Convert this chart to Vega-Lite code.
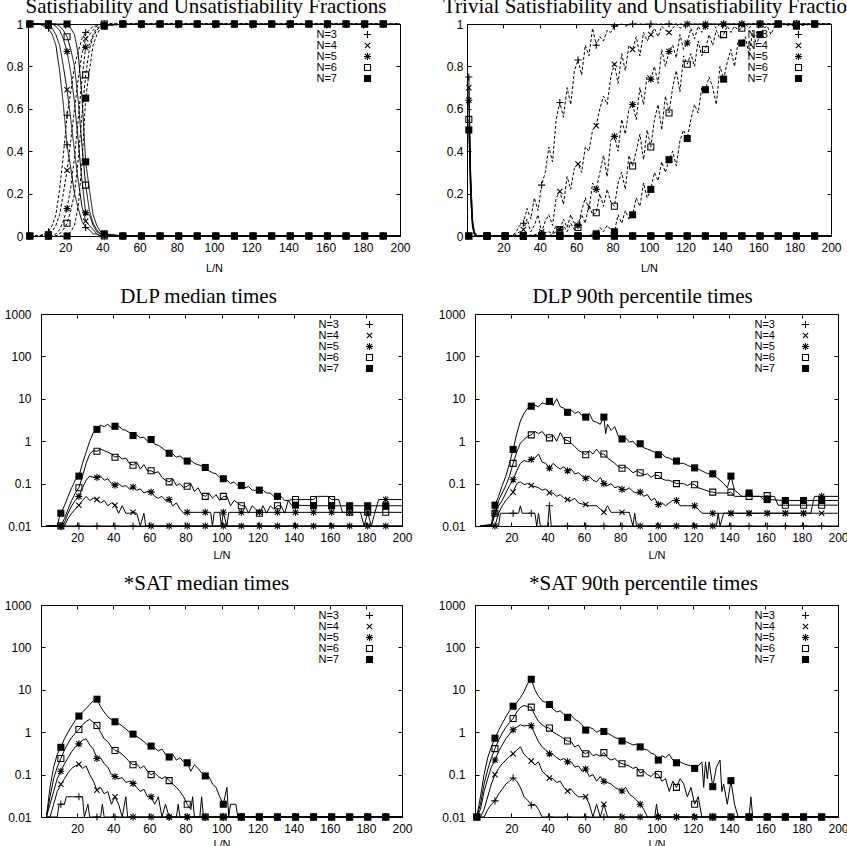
{
"padding": {"left": 3, "top": -5, "right": 0, "bottom": 0},
"config": {
 "view": {"stroke": "black", "strokeWidth": 1},
 "axis": {"domain": false, "grid": false, "ticks": true, "tickSize": -4, "tickColor": "black", "tickWidth": 1, "labelFont": "Liberation Sans", "labelFontSize": 12, "labelColor": "black", "labelFlush": false, "labelOverlap": false, "titleFont": "Liberation Sans", "titleFontSize": 11, "titleFontWeight": "normal", "titleColor": "black"},
 "axisX": {"labelPadding": 10, "titlePadding": 6},
 "title": {"font": "Liberation Serif", "fontSize": 21, "fontWeight": "normal", "color": "black", "baseline": "alphabetic", "offset": 1, "frame": "group"},
 "legend": {"orient": "none", "legendY": 5, "padding": 0, "rowPadding": -2.5, "labelFont": "Liberation Sans", "labelFontSize": 11, "labelColor": "black", "labelAlign": "right", "labelOffset": -36, "symbolSize": 50, "symbolStrokeWidth": 0, "symbolFillColor": "black", "symbolOffset": 0}
},
"datasets": {
"a": [
{"n":3,"k":"s","x":[1,6,11,13,15,17,19,21,23,25,27,29,31,33,35,37,39,41,51,61,71,81,91,101,111,121,131,141,151,161,171,181,191,200],"y":[1,1,0.98,0.95,0.9,0.78,0.62,0.43,0.32,0.2,0.13,0.07,0.04,0.03,0.01,0.01,0,0,0,0,0,0,0,0,0,0,0,0,0,0,0,0,0,0]},
{"n":3,"k":"u","x":[1,6,11,13,15,17,19,21,23,25,27,29,31,33,35,37,39,41,51,61,71,81,91,101,111,121,131,141,151,161,171,181,191,200],"y":[0,0,0.02,0.05,0.1,0.22,0.38,0.57,0.68,0.8,0.87,0.93,0.96,0.97,0.99,0.99,1,1,1,1,1,1,1,1,1,1,1,1,1,1,1,1,1,1]},
{"n":4,"k":"s","x":[1,6,11,13,15,17,19,21,23,25,27,29,31,33,35,37,39,41,51,61,71,81,91,101,111,121,131,141,151,161,171,181,191,200],"y":[1,1,0.99,0.98,0.95,0.9,0.8,0.69,0.55,0.4,0.26,0.14,0.07,0.05,0.03,0.01,0,0,0,0,0,0,0,0,0,0,0,0,0,0,0,0,0,0]},
{"n":4,"k":"u","x":[1,6,11,13,15,17,19,21,23,25,27,29,31,33,35,37,39,41,51,61,71,81,91,101,111,121,131,141,151,161,171,181,191,200],"y":[0,0,0.01,0.02,0.05,0.1,0.2,0.31,0.45,0.6,0.74,0.86,0.93,0.95,0.97,0.99,1,1,1,1,1,1,1,1,1,1,1,1,1,1,1,1,1,1]},
{"n":5,"k":"s","x":[1,6,11,13,15,17,19,21,23,25,27,29,31,33,35,37,39,41,51,61,71,81,91,101,111,121,131,141,151,161,171,181,191,200],"y":[1,1,1,1,0.99,0.97,0.93,0.87,0.77,0.63,0.45,0.26,0.11,0.1,0.05,0.02,0.01,0.01,0,0,0,0,0,0,0,0,0,0,0,0,0,0,0,0]},
{"n":5,"k":"u","x":[1,6,11,13,15,17,19,21,23,25,27,29,31,33,35,37,39,41,51,61,71,81,91,101,111,121,131,141,151,161,171,181,191,200],"y":[0,0,0,0,0.01,0.03,0.07,0.13,0.23,0.37,0.55,0.74,0.89,0.9,0.95,0.98,0.99,0.99,1,1,1,1,1,1,1,1,1,1,1,1,1,1,1,1]},
{"n":6,"k":"s","x":[1,6,11,13,15,17,19,21,23,25,27,29,31,33,35,37,39,41,51,61,71,81,91,101,111,121,131,141,151,161,171,181,191,200],"y":[1,1,1,1,1,0.99,0.97,0.94,0.88,0.8,0.64,0.43,0.24,0.12,0.06,0.03,0.01,0,0,0,0,0,0,0,0,0,0,0,0,0,0,0,0,0]},
{"n":6,"k":"u","x":[1,6,11,13,15,17,19,21,23,25,27,29,31,33,35,37,39,41,51,61,71,81,91,101,111,121,131,141,151,161,171,181,191,200],"y":[0,0,0,0,0,0.01,0.03,0.06,0.12,0.2,0.36,0.57,0.76,0.88,0.94,0.97,0.99,1,1,1,1,1,1,1,1,1,1,1,1,1,1,1,1,1]},
{"n":7,"k":"s","x":[1,6,11,13,15,17,19,21,23,25,27,29,31,33,35,37,39,41,51,61,71,81,91,101,111,121,131,141,151,161,171,181,191,200],"y":[1,1,1,1,1,1,1,1,0.98,0.95,0.86,0.66,0.35,0.22,0.1,0.05,0.02,0.01,0,0,0,0,0,0,0,0,0,0,0,0,0,0,0,0]},
{"n":7,"k":"u","x":[1,6,11,13,15,17,19,21,23,25,27,29,31,33,35,37,39,41,51,61,71,81,91,101,111,121,131,141,151,161,171,181,191,200],"y":[0,0,0,0,0,0,0,0,0.02,0.05,0.14,0.34,0.65,0.78,0.9,0.95,0.98,0.99,1,1,1,1,1,1,1,1,1,1,1,1,1,1,1,1]}
],
"b": [
{"n":3,"k":"s","x":[1,2,3,4,5,6,11,21,31,41,51,61,71,81,91,101,111,121,131,141,151,161,171,181,191,200],"y":[0.75,0.3,0.08,0.02,0.01,0,0,0,0,0,0,0,0,0,0,0,0,0,0,0,0,0,0,0,0,0]},
{"n":4,"k":"s","x":[1,2,3,4,5,6,11,21,31,41,51,61,71,81,91,101,111,121,131,141,151,161,171,181,191,200],"y":[0.7,0.28,0.07,0.02,0,0,0,0,0,0,0,0,0,0,0,0,0,0,0,0,0,0,0,0,0,0]},
{"n":5,"k":"s","x":[1,2,3,4,5,6,11,21,31,41,51,61,71,81,91,101,111,121,131,141,151,161,171,181,191,200],"y":[0.64,0.25,0.06,0.01,0,0,0,0,0,0,0,0,0,0,0,0,0,0,0,0,0,0,0,0,0,0]},
{"n":6,"k":"s","x":[1,2,3,4,5,6,11,21,31,41,51,61,71,81,91,101,111,121,131,141,151,161,171,181,191,200],"y":[0.55,0.2,0.05,0.01,0,0,0,0,0,0,0,0,0,0,0,0,0,0,0,0,0,0,0,0,0,0]},
{"n":7,"k":"s","x":[1,2,3,4,5,6,11,21,31,41,51,61,71,81,91,101,111,121,131,141,151,161,171,181,191,200],"y":[0.5,0.18,0.04,0.01,0,0,0,0,0,0,0,0,0,0,0,0,0,0,0,0,0,0,0,0,0,0]},
{"n":3,"k":"u","x":[1,11,21,25,27,29,31,33,35,37,39,41,43,45,47,49,51,53,55,57,59,61,63,65,67,69,71,73,75,77,79,81,85,87,91,101,111,121,131,141,151,161,171,181,191,200],"y":[0,0,0,0,0.02,0.05,0.06,0.13,0.08,0.18,0.12,0.24,0.3,0.42,0.35,0.55,0.63,0.56,0.7,0.62,0.78,0.83,0.76,0.9,0.85,0.98,0.9,0.94,0.92,0.97,0.96,0.99,1,0.99,1,1,1,1,1,1,1,1,1,1,1,1]},
{"n":4,"k":"u","x":[1,11,21,25,29,31,33,35,37,39,41,43,45,47,49,51,53,55,57,59,61,63,65,67,69,71,73,75,77,79,81,83,85,87,89,91,93,95,97,99,101,103,105,107,109,111,115,117,121,131,141,151,161,171,181,191,200],"y":[0,0,0,0,0.02,0.03,0.08,0.02,0.05,0.1,0.02,0.07,0.1,0.05,0.18,0.21,0.15,0.28,0.22,0.32,0.34,0.3,0.42,0.4,0.5,0.52,0.6,0.66,0.62,0.75,0.81,0.72,0.86,0.78,0.9,0.88,0.94,0.85,0.96,0.92,0.95,0.98,0.94,0.99,0.97,0.96,1,0.98,1,1,1,1,1,1,1,1,1]},
{"n":5,"k":"u","x":[1,11,21,31,41,45,47,49,51,53,55,57,59,61,63,65,67,69,71,73,75,77,79,81,83,85,87,89,91,93,95,97,99,101,103,105,107,109,111,113,115,117,119,121,123,125,127,129,131,133,135,137,139,141,151,161,171,181,191,200],"y":[0,0,0,0,0.01,0.02,0.01,0.05,0.03,0.08,0.04,0.1,0.06,0.05,0.12,0.18,0.12,0.25,0.22,0.3,0.38,0.28,0.45,0.47,0.4,0.55,0.48,0.6,0.62,0.55,0.7,0.62,0.76,0.74,0.8,0.72,0.88,0.8,0.87,0.9,0.84,0.95,0.88,0.91,0.98,0.93,0.99,0.96,0.99,1,1,0.98,1,1,1,1,1,1,1,1]},
{"n":6,"k":"u","x":[1,11,21,31,41,45,49,51,53,55,57,59,61,63,65,67,69,71,73,75,77,79,81,83,85,87,89,91,93,95,97,99,101,103,105,107,109,111,113,115,117,119,121,123,125,127,129,131,133,135,137,139,141,143,145,147,149,151,153,155,157,159,161,171,181,191,200],"y":[0,0,0,0,0,0,0.02,0.03,0.05,0.02,0.06,0.03,0.04,0.1,0.06,0.15,0.1,0.11,0.2,0.14,0.22,0.16,0.14,0.25,0.3,0.22,0.38,0.33,0.4,0.48,0.36,0.5,0.42,0.55,0.62,0.5,0.66,0.58,0.7,0.78,0.68,0.85,0.81,0.86,0.8,0.92,0.85,0.88,0.95,0.9,0.97,0.93,0.95,0.99,0.96,0.99,0.97,0.98,1,0.98,1,1,1,1,1,1,1]},
{"n":7,"k":"u","x":[1,11,21,31,41,51,61,65,67,69,71,73,75,77,79,81,83,85,87,89,91,93,95,97,99,101,103,105,107,109,111,113,115,117,119,121,123,125,127,129,131,133,135,137,139,141,143,145,147,149,151,153,155,157,159,161,163,165,167,169,171,181,191,200],"y":[0,0,0,0,0,0,0,0,0,0.01,0.01,0.04,0.02,0.05,0.03,0.02,0.1,0.06,0.12,0.08,0.1,0.18,0.14,0.25,0.18,0.22,0.3,0.26,0.35,0.3,0.36,0.4,0.33,0.45,0.5,0.46,0.55,0.62,0.58,0.7,0.69,0.75,0.7,0.62,0.8,0.74,0.82,0.88,0.8,0.92,0.91,0.94,0.85,0.97,0.9,0.95,0.98,0.99,0.95,0.99,1,0.99,1,1]}
],
"c": [
{"n":7,"x":[3,9,10,11,13,15,17,19,21,23,25,27,29,31,33,35,37,39,41,43,45,47,49,51,53,55,57,59,61,63,65,67,69,71,73,75,77,79,81,83,85,87,89,91,93,95,97,99,101,103,105,107,109,111,113,115,117,119,121,123,125,127,129,131,133,135,137,139,141,151,161,171,181,191,200],"y":[0.01,0.01,0.015,0.02,0.03,0.05,0.08,0.12,0.15,0.3,0.55,1.0,1.6,1.9,2.4,2.2,2.5,2.1,2.25,2.3,1.9,1.8,1.6,1.36,1.4,1.2,1.25,1.0,1.1,0.85,0.8,0.7,0.6,0.52,0.5,0.42,0.45,0.38,0.34,0.35,0.3,0.28,0.26,0.24,0.2,0.18,0.17,0.14,0.13,0.12,0.1,0.11,0.09,0.09,0.08,0.085,0.07,0.07,0.07,0.07,0.06,0.06,0.05,0.05,0.05,0.04,0.04,0.03,0.031,0.03,0.03,0.03,0.03,0.03,0.03]},
{"n":6,"x":[3,11,13,15,17,19,21,23,25,27,29,31,33,35,37,39,41,43,45,47,49,51,53,55,57,59,61,63,65,67,69,71,73,75,77,79,81,83,85,87,89,91,93,95,97,99,101,103,105,107,109,111,113,115,117,119,121,123,125,127,129,131,133,135,137,139,141,151,153,159,161,165,167,171,181,191,200],"y":[0.01,0.01,0.015,0.025,0.04,0.06,0.08,0.15,0.3,0.5,0.6,0.58,0.65,0.6,0.55,0.5,0.42,0.45,0.38,0.4,0.3,0.27,0.32,0.22,0.28,0.2,0.2,0.18,0.19,0.14,0.12,0.11,0.13,0.09,0.1,0.08,0.087,0.1,0.065,0.08,0.055,0.05,0.06,0.045,0.055,0.04,0.05,0.05,0.03,0.04,0.035,0.03,0.03,0.02,0.03,0.025,0.02,0.03,0.02,0.03,0.025,0.03,0.03,0.02,0.04,0.042,0.042,0.042,0.05,0.05,0.042,0.042,0.021,0.021,0.021,0.021,0.021]},
{"n":5,"x":[3,11,13,15,17,19,21,23,25,27,29,31,33,35,37,39,41,43,45,47,49,51,53,55,57,59,61,63,65,67,69,71,73,75,77,79,81,91,94,95,96,99,100,101,103,104,111,121,131,141,151,161,171,177,179,181,183,185,187,191,200],"y":[0.01,0.01,0.012,0.02,0.03,0.04,0.05,0.08,0.12,0.15,0.14,0.14,0.15,0.12,0.13,0.1,0.092,0.1,0.085,0.09,0.075,0.083,0.07,0.075,0.06,0.065,0.063,0.05,0.045,0.05,0.04,0.042,0.03,0.035,0.025,0.02,0.021,0.021,0.021,0.01,0.021,0.021,0.01,0.021,0.01,0.021,0.021,0.021,0.021,0.021,0.021,0.021,0.021,0.021,0.01,0.021,0.01,0.021,0.042,0.042,0.042]},
{"n":4,"x":[3,11,13,15,17,19,21,23,25,27,29,31,33,35,37,39,41,43,45,47,49,51,53,55,57,58,61,71,81,91,101,111,121,131,141,151,161,171,181,191,200],"y":[0.01,0.01,0.01,0.015,0.02,0.025,0.031,0.04,0.05,0.04,0.045,0.042,0.035,0.04,0.03,0.035,0.031,0.02,0.03,0.02,0.02,0.021,0.02,0.01,0.02,0.01,0.01,0.01,0.01,0.01,0.01,0.01,0.01,0.01,0.01,0.01,0.01,0.01,0.01,0.01,0.01]},
{"n":3,"x":[3,11,21,31,41,51,61,71,81,91,101,111,121,131,141,151,161,171,181,191,200],"y":[0.01,0.01,0.01,0.01,0.01,0.01,0.01,0.01,0.01,0.01,0.01,0.01,0.01,0.01,0.01,0.01,0.01,0.01,0.01,0.01,0.01]}
],
"d": [
{"n":7,"x":[3,9,11,13,15,17,19,21,23,25,27,29,31,33,35,37,39,41,43,45,47,49,51,53,55,57,59,61,63,65,67,69,71,72,73,75,77,79,81,83,85,87,89,91,93,95,97,99,101,103,105,107,109,111,113,115,117,119,121,123,125,127,129,131,133,135,137,139,141,143,145,147,149,151,153,155,157,159,161,171,181,191,200],"y":[0.01,0.011,0.031,0.05,0.09,0.15,0.3,0.64,1.5,3,4.5,6,6.7,7,6.5,8,7.5,8.7,7,10,6.5,6,4.8,5.5,4.5,5,4,3.7,4.5,3,2.8,2.5,3.7,1.5,2.5,1.8,2.2,1.3,1.13,1.2,0.95,1.0,0.8,0.87,0.7,0.65,0.6,0.55,0.48,0.5,0.42,0.4,0.36,0.34,0.3,0.3,0.27,0.25,0.235,0.22,0.2,0.18,0.17,0.17,0.14,0.12,0.1,0.08,0.15,0.07,0.06,0.05,0.05,0.06,0.05,0.05,0.05,0.042,0.042,0.04,0.04,0.04,0.04]},
{"n":6,"x":[3,9,11,13,15,17,19,21,23,25,27,29,31,33,35,37,39,41,43,45,47,49,51,53,55,57,59,61,63,65,67,69,71,73,75,77,79,81,83,85,87,89,91,93,95,97,99,101,103,105,107,109,111,113,115,117,119,121,123,125,127,129,131,133,135,137,139,141,143,145,147,149,151,153,155,157,159,161,163,165,167,171,181,191,200],"y":[0.01,0.01,0.02,0.04,0.06,0.09,0.15,0.3,0.55,0.9,1.1,1.3,1.41,1.7,1.5,1.7,1.3,1.2,1.4,1.0,1.6,1.1,1.04,0.9,0.75,0.6,0.55,0.48,0.6,0.5,0.65,0.5,0.5,0.4,0.35,0.3,0.25,0.23,0.25,0.22,0.18,0.2,0.18,0.16,0.17,0.14,0.16,0.155,0.13,0.12,0.12,0.11,0.1,0.1,0.1,0.09,0.1,0.094,0.08,0.075,0.07,0.065,0.063,0.06,0.06,0.06,0.06,0.063,0.05,0.05,0.05,0.05,0.05,0.05,0.05,0.05,0.05,0.052,0.05,0.05,0.031,0.031,0.031,0.031,0.031]},
{"n":5,"x":[3,9,11,13,15,17,19,21,23,25,27,29,31,33,35,37,39,41,43,45,47,49,51,53,55,57,59,61,63,65,67,69,71,73,75,77,79,81,83,85,87,89,91,93,95,97,99,101,103,105,107,109,111,113,115,117,119,121,123,125,131,141,151,161,171,181,185,187,191,200],"y":[0.01,0.01,0.02,0.03,0.04,0.06,0.09,0.123,0.2,0.3,0.35,0.33,0.37,0.4,0.5,0.32,0.3,0.23,0.3,0.25,0.22,0.25,0.2,0.22,0.17,0.18,0.15,0.134,0.15,0.12,0.11,0.14,0.1,0.09,0.1,0.08,0.085,0.073,0.07,0.08,0.065,0.06,0.063,0.05,0.055,0.04,0.045,0.032,0.035,0.03,0.035,0.04,0.04,0.03,0.03,0.03,0.03,0.03,0.025,0.02,0.02,0.02,0.02,0.02,0.02,0.02,0.02,0.05,0.05,0.05]},
{"n":4,"x":[3,9,11,13,15,17,19,21,23,25,27,29,31,33,35,37,39,41,43,45,47,49,51,53,55,57,59,61,63,65,67,69,71,73,75,77,79,81,83,85,87,88,89,91,101,111,121,131,133,134,135,137,141,151,161,171,181,191,200],"y":[0.01,0.01,0.01,0.02,0.03,0.04,0.05,0.063,0.1,0.11,0.095,0.1,0.09,0.085,0.08,0.07,0.075,0.061,0.06,0.05,0.055,0.045,0.042,0.04,0.045,0.035,0.033,0.032,0.03,0.03,0.03,0.025,0.021,0.03,0.021,0.021,0.021,0.021,0.021,0.021,0.01,0.02,0.01,0.01,0.01,0.01,0.01,0.01,0.01,0.02,0.01,0.02,0.02,0.02,0.02,0.02,0.02,0.02,0.02]},
{"n":3,"x":[3,11,13,14,15,21,24,25,26,31,33,34,35,36,40,41,42,51,61,71,81,91,101,111,121,131,141,151,161,171,181,191,200],"y":[0.01,0.01,0.01,0.02,0.02,0.02,0.02,0.03,0.02,0.02,0.02,0.01,0.02,0.01,0.01,0.03,0.01,0.01,0.01,0.01,0.01,0.01,0.01,0.01,0.01,0.01,0.01,0.01,0.01,0.01,0.01,0.01,0.01]}
],
"e": [
{"n":7,"x":[3,5,7,9,11,13,15,17,19,21,23,25,27,29,31,33,35,37,39,41,43,45,47,49,51,53,55,57,59,61,63,65,67,69,71,73,75,77,79,81,83,85,87,89,91,93,95,97,99,101,103,104,105,108,109,111,121,131,141,151,161,171,181,191,200],"y":[0.01,0.05,0.15,0.3,0.44,0.7,1.0,1.4,1.9,2.4,3.0,3.6,4.5,5.5,6.0,4.0,3.0,2.3,2.0,1.76,1.6,1.4,1.2,1.0,0.9,0.8,0.7,0.6,0.5,0.47,0.42,0.36,0.4,0.3,0.26,0.3,0.22,0.25,0.2,0.19,0.12,0.17,0.14,0.11,0.093,0.09,0.06,0.05,0.03,0.02,0.05,0.01,0.02,0.02,0.01,0.01,0.01,0.01,0.01,0.01,0.01,0.01,0.01,0.01,0.01]},
{"n":6,"x":[3,5,7,9,11,13,15,17,19,21,23,25,27,29,31,33,35,37,39,41,43,45,47,49,51,53,55,57,59,61,63,65,67,69,71,73,75,77,79,81,83,84,85,88,89,90,91,101,111,121,131,141,151,161,171,181,191,200],"y":[0.01,0.03,0.08,0.15,0.24,0.38,0.55,0.75,0.95,1.16,1.5,1.8,2.0,1.7,1.44,1.0,0.7,0.6,0.45,0.37,0.35,0.3,0.25,0.2,0.17,0.18,0.14,0.16,0.12,0.1,0.11,0.09,0.08,0.09,0.072,0.06,0.05,0.04,0.03,0.02,0.015,0.03,0.01,0.01,0.03,0.01,0.01,0.01,0.01,0.01,0.01,0.01,0.01,0.01,0.01,0.01,0.01,0.01]},
{"n":5,"x":[3,5,7,9,11,13,15,17,19,21,23,25,27,29,31,33,35,37,39,41,43,45,47,49,51,53,55,57,59,61,63,65,67,69,71,75,76,77,81,91,101,111,121,131,141,151,161,171,181,191,200],"y":[0.01,0.02,0.04,0.08,0.12,0.18,0.25,0.35,0.45,0.53,0.65,0.7,0.5,0.4,0.24,0.25,0.18,0.15,0.1,0.09,0.08,0.085,0.065,0.07,0.062,0.05,0.04,0.045,0.03,0.03,0.02,0.03,0.01,0.02,0.01,0.01,0.02,0.01,0.01,0.01,0.01,0.01,0.01,0.01,0.01,0.01,0.01,0.01,0.01,0.01,0.01]},
{"n":4,"x":[3,5,7,9,11,13,15,17,19,21,23,25,27,29,31,33,35,37,39,41,43,45,47,48,51,61,71,81,91,101,111,121,131,141,151,161,171,181,191,200],"y":[0.01,0.01,0.02,0.04,0.059,0.08,0.11,0.14,0.16,0.175,0.14,0.16,0.1,0.07,0.043,0.05,0.035,0.04,0.02,0.03,0.02,0.01,0.03,0.01,0.01,0.01,0.01,0.01,0.01,0.01,0.01,0.01,0.01,0.01,0.01,0.01,0.01,0.01,0.01,0.01]},
{"n":3,"x":[3,9,10,11,13,14,21,23,24,26,27,31,33,34,35,41,51,61,71,81,91,101,111,121,131,141,151,161,171,181,191,200],"y":[0.01,0.01,0.02,0.02,0.02,0.03,0.03,0.03,0.01,0.02,0.01,0.01,0.01,0.02,0.01,0.01,0.01,0.01,0.01,0.01,0.01,0.01,0.01,0.01,0.01,0.01,0.01,0.01,0.01,0.01,0.01,0.01]}
],
"f": [
{"n":7,"x":[1,3,5,7,9,11,13,15,17,19,21,23,25,27,29,31,33,35,37,39,41,43,45,47,49,51,53,55,57,59,61,63,65,67,69,71,73,75,77,79,81,83,85,87,89,91,93,95,97,99,101,103,105,107,109,111,113,115,117,119,121,123,125,126,127,128,129,131,133,135,136,137,139,141,143,145,151,152,153,161,171,181,191,200],"y":[0.01,0.03,0.1,0.25,0.45,0.72,1.1,1.6,2.3,3.2,4.1,5,6.5,9,14,17.7,10,7,5.5,5,4.5,3.5,3.0,3.2,2.6,2.24,2.5,2.0,1.8,1.5,1.12,1.3,1.2,1.0,1.1,1.04,0.95,0.85,0.75,0.7,0.62,0.6,0.55,0.5,0.52,0.45,0.4,0.38,0.32,0.3,0.22,0.28,0.25,0.3,0.22,0.19,0.2,0.18,0.17,0.16,0.14,0.16,0.2,0.05,0.2,0.08,0.2,0.052,0.15,0.22,0.04,0.06,0.02,0.072,0.02,0.01,0.01,0.03,0.01,0.01,0.01,0.01,0.01,0.01]},
{"n":6,"x":[1,3,5,7,9,11,13,15,17,19,21,23,25,27,29,31,33,35,37,39,41,43,45,47,49,51,53,55,57,59,61,63,65,67,69,71,73,75,77,79,81,83,85,87,89,91,93,95,97,99,101,103,105,107,109,111,113,115,117,119,121,123,125,131,141,151,161,171,181,191,200],"y":[0.01,0.02,0.06,0.13,0.25,0.41,0.65,0.95,1.3,1.7,2.1,3.0,3.8,4.3,4.0,3.9,2.5,1.8,1.5,1.3,1.25,1.0,0.9,0.8,0.7,0.62,0.6,0.45,0.5,0.35,0.31,0.35,0.28,0.3,0.27,0.33,0.25,0.22,0.24,0.2,0.18,0.17,0.16,0.14,0.15,0.11,0.12,0.1,0.09,0.11,0.1,0.07,0.08,0.04,0.07,0.05,0.08,0.06,0.03,0.05,0.02,0.03,0.01,0.01,0.01,0.01,0.01,0.01,0.01,0.01,0.01]},
{"n":5,"x":[1,3,5,7,9,11,13,15,17,19,21,23,25,27,29,31,33,35,37,39,41,43,45,47,49,51,53,55,57,59,61,63,65,67,69,71,73,75,77,79,81,83,85,87,89,91,93,95,99,100,101,111,121,131,141,151,161,171,181,191,200],"y":[0.01,0.015,0.04,0.08,0.15,0.22,0.35,0.5,0.7,0.9,1.14,1.3,1.5,1.4,1.45,1.42,0.9,0.6,0.45,0.38,0.31,0.3,0.25,0.22,0.24,0.2,0.2,0.15,0.16,0.12,0.135,0.09,0.1,0.07,0.09,0.07,0.065,0.06,0.05,0.045,0.041,0.05,0.035,0.03,0.025,0.02,0.015,0.01,0.01,0.02,0.01,0.01,0.01,0.01,0.01,0.01,0.01,0.01,0.01,0.01,0.01]},
{"n":4,"x":[1,3,5,7,9,11,13,15,17,19,21,23,25,27,29,31,33,35,37,39,41,43,45,47,49,51,53,55,57,59,61,63,65,67,69,71,73,75,81,91,101,111,121,131,141,151,161,171,181,191,200],"y":[0.01,0.01,0.015,0.03,0.06,0.1,0.14,0.18,0.22,0.27,0.31,0.38,0.45,0.3,0.25,0.21,0.17,0.2,0.12,0.1,0.083,0.08,0.065,0.07,0.05,0.041,0.045,0.035,0.03,0.03,0.03,0.02,0.01,0.02,0.01,0.02,0.01,0.01,0.01,0.01,0.01,0.01,0.01,0.01,0.01,0.01,0.01,0.01,0.01,0.01,0.01]},
{"n":3,"x":[1,5,7,9,11,13,15,17,19,21,23,25,27,29,31,33,35,37,41,51,61,71,81,91,101,111,121,131,141,151,161,171,181,191,200],"y":[0.01,0.01,0.015,0.02,0.024,0.035,0.045,0.06,0.07,0.083,0.07,0.05,0.03,0.025,0.019,0.02,0.015,0.01,0.01,0.01,0.01,0.01,0.01,0.01,0.01,0.01,0.01,0.01,0.01,0.01,0.01,0.01,0.01,0.01,0.01]}
]
},
"spacing": 11,
"resolve": {"scale": {"x": "independent", "y": "independent", "shape": "independent", "strokeDash": "independent"}, "legend": {"shape": "independent", "strokeDash": "independent"}},
"vconcat": [
{"hconcat": [
 {"width": 372, "height": 212, "title": {"text": "Satisfiability and Unsatisfiability Fractions", "dx": -8},
  "data": {"name": "a"}, "transform": [{"flatten": ["x", "y"]}],
  "resolve": {"axis": {"x": "independent", "y": "independent"}},
  "encoding": {
   "x": {"field": "x", "type": "quantitative", "scale": {"domain": [0, 200], "nice": false, "zero": false}, "axis": {"orient": "bottom", "values": [20,40,60,80,100,120,140,160,180,200], "title": "L/N", "titlePadding": 9}},
   "y": {"field": "y", "type": "quantitative", "scale": {"domain": [0, 1], "nice": false}, "axis": {"orient": "left", "values": [0,0.2,0.4,0.6,0.8,1], "format": "~g", "title": null, "labelPadding": 9}}
  },
  "layer": [
   {"mark": {"type": "line", "stroke": "black", "strokeWidth": 1}, "encoding": {"detail": {"field": "n"}, "strokeDash": {"field": "k", "type": "nominal", "scale": {"domain": ["s", "u"], "range": [[1, 0], [3, 2]]}, "legend": null}}},
   {"transform": [{"filter": "datum.x % 10 == 1"}], "mark": {"type": "point", "size": 50, "strokeWidth": 0, "fill": "black", "filled": true, "opacity": 1},
    "encoding": {
     "x": {"field": "x", "type": "quantitative", "axis": null},
     "y": {"field": "y", "type": "quantitative", "axis": null},
     "shape": {"field": "n", "type": "nominal", "title": null, "scale": {"domain": [3,4,5,6,7], "range": ["M-1,-0.15H-0.15V-1H0.15V-0.15H1V0.15H0.15V1H-0.15V0.15H-1Z", "M-0.856,-0.644L0.644,0.856L0.856,0.644L-0.644,-0.856ZM-0.644,0.856L0.856,-0.644L0.644,-0.856L-0.856,0.644Z", "M-1,-0.15H-0.15V-1H0.15V-0.15H1V0.15H0.15V1H-0.15V0.15H-1ZM-0.644,-0.856L0.856,0.644L0.644,0.856L-0.856,-0.644ZM-0.856,0.644L0.644,-0.856L0.856,-0.644L-0.644,0.856Z", "M-1,-1H1V1H-1ZM-0.7,-0.7V0.7H0.7V-0.7Z", "M-1,-1H1V1H-1Z"]}, "legend": {"legendX": 334, "labelExpr": "'N=' + datum.label", "encode": {"symbols": {"update": {"fill": {"value": "black"}, "strokeWidth": {"value": 0}, "opacity": {"value": 1}}}}}}
    }},
   {"mark": {"type": "point", "opacity": 0},
    "encoding": {
     "x": {"field": "x", "type": "quantitative", "axis": {"orient": "top", "values": [20,40,60,80,100,120,140,160,180,200], "labels": false, "title": null, "minExtent": 0, "maxExtent": 0}},
     "y": {"field": "y", "type": "quantitative", "axis": {"orient": "right", "values": [0,0.2,0.4,0.6,0.8,1], "labels": false, "title": null, "minExtent": 0, "maxExtent": 0}}
    }}
  ]},
 {"width": 364, "height": 212, "title": {"text": "Trivial Satisfiability and Unsatisfiability Fractions", "anchor": "start", "dx": -24},
  "data": {"name": "b"}, "transform": [{"flatten": ["x", "y"]}],
  "resolve": {"axis": {"x": "independent", "y": "independent"}},
  "encoding": {
   "x": {"field": "x", "type": "quantitative", "scale": {"domain": [0, 200], "nice": false, "zero": false}, "axis": {"orient": "bottom", "values": [20,40,60,80,100,120,140,160,180,200], "title": "L/N", "titlePadding": 9}},
   "y": {"field": "y", "type": "quantitative", "scale": {"domain": [0, 1], "nice": false}, "axis": {"orient": "left", "values": [0,0.2,0.4,0.6,0.8,1], "format": "~g", "title": null, "labelPadding": 8}}
  },
  "layer": [
   {"mark": {"type": "line", "stroke": "black", "strokeWidth": 1}, "encoding": {"detail": {"field": "n"}, "strokeDash": {"field": "k", "type": "nominal", "scale": {"domain": ["s", "u"], "range": [[1, 0], [3, 2]]}, "legend": null}}},
   {"transform": [{"filter": "datum.x % 10 == 1"}], "mark": {"type": "point", "size": 50, "strokeWidth": 0, "fill": "black", "filled": true, "opacity": 1},
    "encoding": {
     "x": {"field": "x", "type": "quantitative", "axis": null},
     "y": {"field": "y", "type": "quantitative", "axis": null},
     "shape": {"field": "n", "type": "nominal", "title": null, "scale": {"domain": [3,4,5,6,7], "range": ["M-1,-0.15H-0.15V-1H0.15V-0.15H1V0.15H0.15V1H-0.15V0.15H-1Z", "M-0.856,-0.644L0.644,0.856L0.856,0.644L-0.644,-0.856ZM-0.644,0.856L0.856,-0.644L0.644,-0.856L-0.856,0.644Z", "M-1,-0.15H-0.15V-1H0.15V-0.15H1V0.15H0.15V1H-0.15V0.15H-1ZM-0.644,-0.856L0.856,0.644L0.644,0.856L-0.856,-0.644ZM-0.856,0.644L0.644,-0.856L0.856,-0.644L-0.644,0.856Z", "M-1,-1H1V1H-1ZM-0.7,-0.7V0.7H0.7V-0.7Z", "M-1,-1H1V1H-1Z"]}, "legend": {"legendX": 326, "labelExpr": "'N=' + datum.label", "encode": {"symbols": {"update": {"fill": {"value": "black"}, "strokeWidth": {"value": 0}, "opacity": {"value": 1}}}}}}
    }},
   {"mark": {"type": "point", "opacity": 0},
    "encoding": {
     "x": {"field": "x", "type": "quantitative", "axis": {"orient": "top", "values": [20,40,60,80,100,120,140,160,180,200], "labels": false, "title": null, "minExtent": 0, "maxExtent": 0}},
     "y": {"field": "y", "type": "quantitative", "axis": {"orient": "right", "values": [0,0.2,0.4,0.6,0.8,1], "labels": false, "title": null, "minExtent": 0, "maxExtent": 0}}
    }}
  ]}
 ], "spacing": 31,
 "resolve": {"scale": {"x": "independent", "y": "independent", "shape": "independent", "strokeDash": "independent"}, "legend": {"shape": "independent", "strokeDash": "independent"}}},
{"hconcat": [
 {"width": 1, "height": 1, "view": {"stroke": null}, "data": {"values": [{"v": 1}]}, "mark": {"type": "point", "opacity": 0}},
 {"vconcat": [
  {"hconcat": [
   {"width": 361, "height": 212, "title": {"text": "DLP median times", "dx": -23},
    "data": {"name": "c"}, "transform": [{"flatten": ["x", "y"]}],
    "resolve": {"axis": {"x": "independent", "y": "independent"}},
    "encoding": {
     "x": {"field": "x", "type": "quantitative", "scale": {"domain": [0, 200], "nice": false, "zero": false}, "axis": {"orient": "bottom", "values": [20,40,60,80,100,120,140,160,180,200], "title": "L/N"}},
     "y": {"field": "y", "type": "quantitative", "scale": {"type": "log", "domain": [0.01, 1000], "nice": false}, "axis": {"orient": "left", "values": [0.01,0.1,1,10,100,1000], "format": "~g", "title": null, "labelPadding": 14}}
    },
    "layer": [
     {"mark": {"type": "line", "stroke": "black", "strokeWidth": 1}, "encoding": {"detail": {"field": "n"}}},
     {"transform": [{"filter": "datum.x % 10 == 1"}], "mark": {"type": "point", "size": 50, "strokeWidth": 0, "fill": "black", "filled": true, "opacity": 1},
      "encoding": {
       "x": {"field": "x", "type": "quantitative", "axis": null},
       "y": {"field": "y", "type": "quantitative", "axis": null},
       "shape": {"field": "n", "type": "nominal", "title": null, "scale": {"domain": [3,4,5,6,7], "range": ["M-1,-0.15H-0.15V-1H0.15V-0.15H1V0.15H0.15V1H-0.15V0.15H-1Z", "M-0.856,-0.644L0.644,0.856L0.856,0.644L-0.644,-0.856ZM-0.644,0.856L0.856,-0.644L0.644,-0.856L-0.856,0.644Z", "M-1,-0.15H-0.15V-1H0.15V-0.15H1V0.15H0.15V1H-0.15V0.15H-1ZM-0.644,-0.856L0.856,0.644L0.644,0.856L-0.856,-0.644ZM-0.856,0.644L0.644,-0.856L0.856,-0.644L-0.644,0.856Z", "M-1,-1H1V1H-1ZM-0.7,-0.7V0.7H0.7V-0.7Z", "M-1,-1H1V1H-1Z"]}, "legend": {"legendX": 323, "labelExpr": "'N=' + datum.label", "encode": {"symbols": {"update": {"fill": {"value": "black"}, "strokeWidth": {"value": 0}, "opacity": {"value": 1}}}}}}
      }},
     {"mark": {"type": "point", "opacity": 0},
      "encoding": {
       "x": {"field": "x", "type": "quantitative", "axis": {"orient": "top", "values": [20,40,60,80,100,120,140,160,180,200], "labels": false, "title": null, "minExtent": 0, "maxExtent": 0}},
       "y": {"field": "y", "type": "quantitative", "axis": {"orient": "right", "values": [0.01,0.1,1,10,100,1000], "labels": false, "title": null, "minExtent": 0, "maxExtent": 0}}
      }}
    ]},
   {"width": 363, "height": 212, "title": {"text": "DLP 90th percentile times", "dx": -14},
    "data": {"name": "d"}, "transform": [{"flatten": ["x", "y"]}],
    "resolve": {"axis": {"x": "independent", "y": "independent"}},
    "encoding": {
     "x": {"field": "x", "type": "quantitative", "scale": {"domain": [0, 200], "nice": false, "zero": false}, "axis": {"orient": "bottom", "values": [20,40,60,80,100,120,140,160,180,200], "title": "L/N"}},
     "y": {"field": "y", "type": "quantitative", "scale": {"type": "log", "domain": [0.01, 1000], "nice": false}, "axis": {"orient": "left", "values": [0.01,0.1,1,10,100,1000], "format": "~g", "title": null, "labelPadding": 14}}
    },
    "layer": [
     {"mark": {"type": "line", "stroke": "black", "strokeWidth": 1}, "encoding": {"detail": {"field": "n"}}},
     {"transform": [{"filter": "datum.x % 10 == 1"}], "mark": {"type": "point", "size": 50, "strokeWidth": 0, "fill": "black", "filled": true, "opacity": 1},
      "encoding": {
       "x": {"field": "x", "type": "quantitative", "axis": null},
       "y": {"field": "y", "type": "quantitative", "axis": null},
       "shape": {"field": "n", "type": "nominal", "title": null, "scale": {"domain": [3,4,5,6,7], "range": ["M-1,-0.15H-0.15V-1H0.15V-0.15H1V0.15H0.15V1H-0.15V0.15H-1Z", "M-0.856,-0.644L0.644,0.856L0.856,0.644L-0.644,-0.856ZM-0.644,0.856L0.856,-0.644L0.644,-0.856L-0.856,0.644Z", "M-1,-0.15H-0.15V-1H0.15V-0.15H1V0.15H0.15V1H-0.15V0.15H-1ZM-0.644,-0.856L0.856,0.644L0.644,0.856L-0.856,-0.644ZM-0.856,0.644L0.644,-0.856L0.856,-0.644L-0.644,0.856Z", "M-1,-1H1V1H-1ZM-0.7,-0.7V0.7H0.7V-0.7Z", "M-1,-1H1V1H-1Z"]}, "legend": {"legendX": 325, "labelExpr": "'N=' + datum.label", "encode": {"symbols": {"update": {"fill": {"value": "black"}, "strokeWidth": {"value": 0}, "opacity": {"value": 1}}}}}}
      }},
     {"mark": {"type": "point", "opacity": 0},
      "encoding": {
       "x": {"field": "x", "type": "quantitative", "axis": {"orient": "top", "values": [20,40,60,80,100,120,140,160,180,200], "labels": false, "title": null, "minExtent": 0, "maxExtent": 0}},
       "y": {"field": "y", "type": "quantitative", "axis": {"orient": "right", "values": [0.01,0.1,1,10,100,1000], "labels": false, "title": null, "minExtent": 0, "maxExtent": 0}}
      }}
    ]}
   ], "spacing": 24,
   "resolve": {"scale": {"x": "independent", "y": "independent", "shape": "independent"}, "legend": {"shape": "independent"}}},
  {"hconcat": [
   {"width": 361, "height": 212, "title": {"text": "*SAT median times", "dx": -15, "offset": 5},
    "data": {"name": "e"}, "transform": [{"flatten": ["x", "y"]}],
    "resolve": {"axis": {"x": "independent", "y": "independent"}},
    "encoding": {
     "x": {"field": "x", "type": "quantitative", "scale": {"domain": [0, 200], "nice": false, "zero": false}, "axis": {"orient": "bottom", "values": [20,40,60,80,100,120,140,160,180,200], "title": "L/N", "titlePadding": 4}},
     "y": {"field": "y", "type": "quantitative", "scale": {"type": "log", "domain": [0.01, 1000], "nice": false}, "axis": {"orient": "left", "values": [0.01,0.1,1,10,100,1000], "format": "~g", "title": null, "labelPadding": 14}}
    },
    "layer": [
     {"mark": {"type": "line", "stroke": "black", "strokeWidth": 1}, "encoding": {"detail": {"field": "n"}}},
     {"transform": [{"filter": "datum.x % 10 == 1"}], "mark": {"type": "point", "size": 50, "strokeWidth": 0, "fill": "black", "filled": true, "opacity": 1},
      "encoding": {
       "x": {"field": "x", "type": "quantitative", "axis": null},
       "y": {"field": "y", "type": "quantitative", "axis": null},
       "shape": {"field": "n", "type": "nominal", "title": null, "scale": {"domain": [3,4,5,6,7], "range": ["M-1,-0.15H-0.15V-1H0.15V-0.15H1V0.15H0.15V1H-0.15V0.15H-1Z", "M-0.856,-0.644L0.644,0.856L0.856,0.644L-0.644,-0.856ZM-0.644,0.856L0.856,-0.644L0.644,-0.856L-0.856,0.644Z", "M-1,-0.15H-0.15V-1H0.15V-0.15H1V0.15H0.15V1H-0.15V0.15H-1ZM-0.644,-0.856L0.856,0.644L0.644,0.856L-0.856,-0.644ZM-0.856,0.644L0.644,-0.856L0.856,-0.644L-0.644,0.856Z", "M-1,-1H1V1H-1ZM-0.7,-0.7V0.7H0.7V-0.7Z", "M-1,-1H1V1H-1Z"]}, "legend": {"legendX": 323, "labelExpr": "'N=' + datum.label", "encode": {"symbols": {"update": {"fill": {"value": "black"}, "strokeWidth": {"value": 0}, "opacity": {"value": 1}}}}}}
      }},
     {"mark": {"type": "point", "opacity": 0},
      "encoding": {
       "x": {"field": "x", "type": "quantitative", "axis": {"orient": "top", "values": [20,40,60,80,100,120,140,160,180,200], "labels": false, "title": null, "minExtent": 0, "maxExtent": 0}},
       "y": {"field": "y", "type": "quantitative", "axis": {"orient": "right", "values": [0.01,0.1,1,10,100,1000], "labels": false, "title": null, "minExtent": 0, "maxExtent": 0}}
      }}
    ]},
   {"width": 363, "height": 212, "title": {"text": "*SAT 90th percentile times", "dx": -13, "offset": 5},
    "data": {"name": "f"}, "transform": [{"flatten": ["x", "y"]}],
    "resolve": {"axis": {"x": "independent", "y": "independent"}},
    "encoding": {
     "x": {"field": "x", "type": "quantitative", "scale": {"domain": [0, 200], "nice": false, "zero": false}, "axis": {"orient": "bottom", "values": [20,40,60,80,100,120,140,160,180,200], "title": "L/N", "titlePadding": 4}},
     "y": {"field": "y", "type": "quantitative", "scale": {"type": "log", "domain": [0.01, 1000], "nice": false}, "axis": {"orient": "left", "values": [0.01,0.1,1,10,100,1000], "format": "~g", "title": null, "labelPadding": 14}}
    },
    "layer": [
     {"mark": {"type": "line", "stroke": "black", "strokeWidth": 1}, "encoding": {"detail": {"field": "n"}}},
     {"transform": [{"filter": "datum.x % 10 == 1"}], "mark": {"type": "point", "size": 50, "strokeWidth": 0, "fill": "black", "filled": true, "opacity": 1},
      "encoding": {
       "x": {"field": "x", "type": "quantitative", "axis": null},
       "y": {"field": "y", "type": "quantitative", "axis": null},
       "shape": {"field": "n", "type": "nominal", "title": null, "scale": {"domain": [3,4,5,6,7], "range": ["M-1,-0.15H-0.15V-1H0.15V-0.15H1V0.15H0.15V1H-0.15V0.15H-1Z", "M-0.856,-0.644L0.644,0.856L0.856,0.644L-0.644,-0.856ZM-0.644,0.856L0.856,-0.644L0.644,-0.856L-0.856,0.644Z", "M-1,-0.15H-0.15V-1H0.15V-0.15H1V0.15H0.15V1H-0.15V0.15H-1ZM-0.644,-0.856L0.856,0.644L0.644,0.856L-0.856,-0.644ZM-0.856,0.644L0.644,-0.856L0.856,-0.644L-0.644,0.856Z", "M-1,-1H1V1H-1ZM-0.7,-0.7V0.7H0.7V-0.7Z", "M-1,-1H1V1H-1Z"]}, "legend": {"legendX": 325, "labelExpr": "'N=' + datum.label", "encode": {"symbols": {"update": {"fill": {"value": "black"}, "strokeWidth": {"value": 0}, "opacity": {"value": 1}}}}}}
      }},
     {"mark": {"type": "point", "opacity": 0},
      "encoding": {
       "x": {"field": "x", "type": "quantitative", "axis": {"orient": "top", "values": [20,40,60,80,100,120,140,160,180,200], "labels": false, "title": null, "minExtent": 0, "maxExtent": 0}},
       "y": {"field": "y", "type": "quantitative", "axis": {"orient": "right", "values": [0.01,0.1,1,10,100,1000], "labels": false, "title": null, "minExtent": 0, "maxExtent": 0}}
      }}
    ]}
   ], "spacing": 24,
   "resolve": {"scale": {"x": "independent", "y": "independent", "shape": "independent"}, "legend": {"shape": "independent"}}}
 ], "spacing": 11,
 "resolve": {"scale": {"x": "independent", "y": "independent", "shape": "independent"}, "legend": {"shape": "independent"}}}
], "spacing": 12, "bounds": "flush",
"resolve": {"scale": {"x": "independent", "y": "independent", "shape": "independent"}, "legend": {"shape": "independent"}}}
]
}
